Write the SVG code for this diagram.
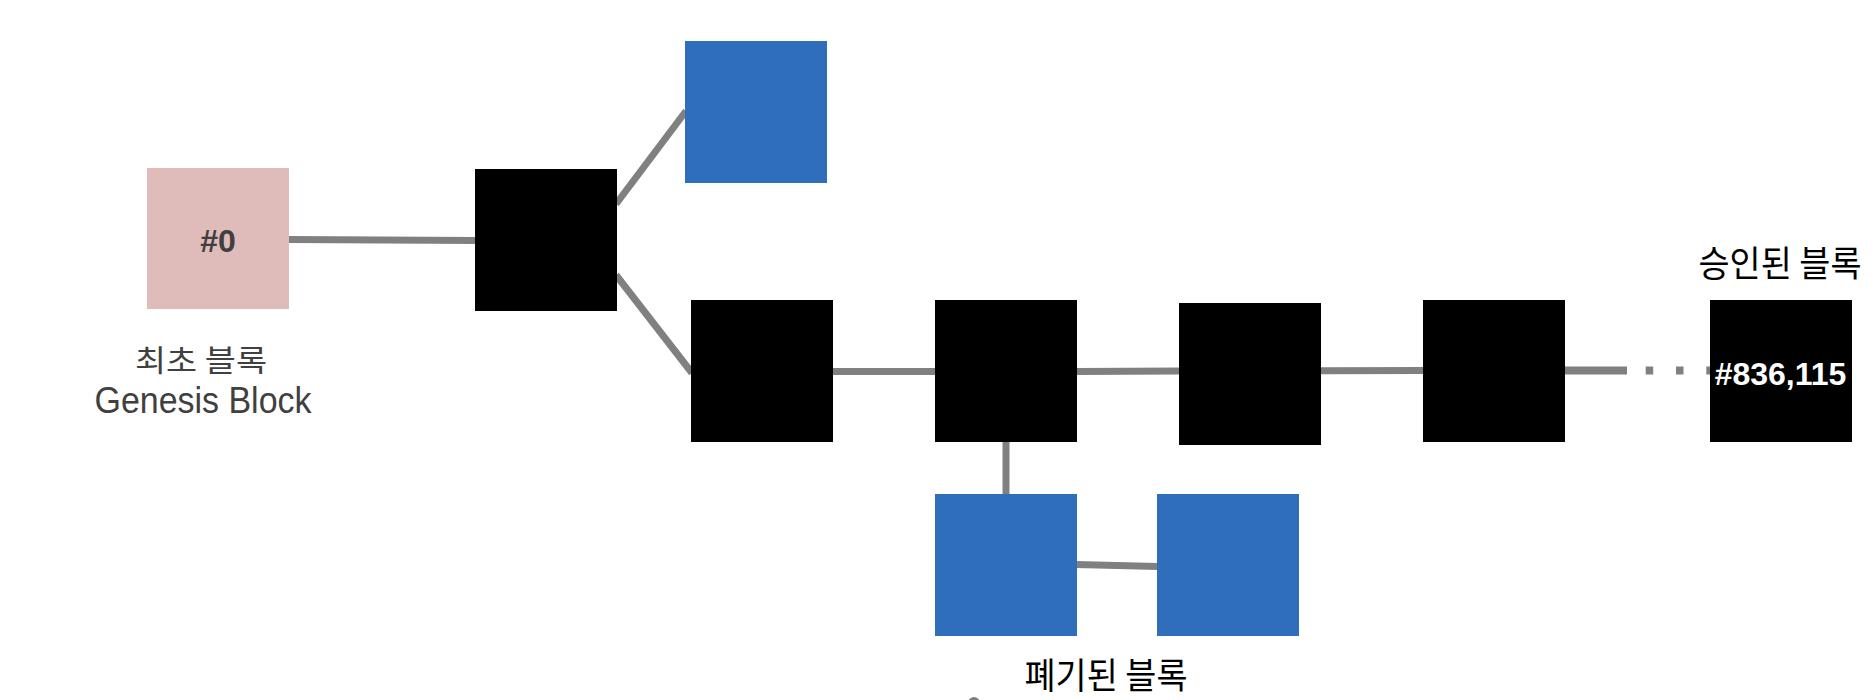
<svg xmlns="http://www.w3.org/2000/svg" width="1876" height="700" viewBox="0 0 1876 700">
<style>
.blk{fill:#000000}
.blue{fill:#2E6EBB}
.gen{fill:#DFBBBA}
.con{stroke:#808080;stroke-width:7;fill:none}
.num{font-family:"Liberation Sans","Noto Sans CJK KR",sans-serif;font-weight:bold;font-size:32px;text-anchor:middle}
.kr{font-family:"Noto Sans CJK KR","Liberation Sans",sans-serif;text-anchor:middle}
.lat{font-family:"Liberation Sans","Noto Sans",sans-serif;text-anchor:middle}
</style>
<rect width="1876" height="700" fill="#ffffff"/>
<g id="connectors">
<line class="con" x1="289" y1="239.5" x2="476" y2="240.5"/>
<line class="con" x1="616" y1="204" x2="686" y2="111"/>
<line class="con" x1="616" y1="275" x2="692" y2="373"/>
<line class="con" x1="832" y1="371.5" x2="935" y2="371.5"/>
<line class="con" x1="1076" y1="371.5" x2="1179" y2="371"/>
<line class="con" x1="1320" y1="370.8" x2="1423" y2="370.5"/>
<line class="con" style="stroke-width:8" x1="1564" y1="370.5" x2="1627" y2="370.5"/>
<line class="con" style="stroke-width:8;stroke-dasharray:7.5 22.8" x1="1645.7" y1="370.5" x2="1711" y2="370.5"/>
<line class="con" x1="1006" y1="441" x2="1006" y2="495"/>
<line class="con" x1="1076" y1="564.5" x2="1158" y2="566.5"/>
<circle cx="974" cy="703" r="6" fill="#808080"/>
</g>
<g id="genesis">
<rect class="gen" x="147" y="168" width="142" height="141"/>
<text class="num" x="218" y="251.7" font-size="33" fill="#404040">#0</text>
<text class="kr" x="201" y="370.5" font-size="30" fill="#404040" textLength="132" lengthAdjust="spacingAndGlyphs">최초 블록</text>
<text class="lat" x="203" y="413.3" font-size="37" fill="#404040" textLength="217" lengthAdjust="spacingAndGlyphs">Genesis Block</text>
</g>
<g id="blockA"><rect class="blk" x="475" y="169" width="142" height="142"/></g>
<g id="orphanTop"><rect class="blue" x="685" y="41" width="142" height="142"/></g>
<g id="blockB"><rect class="blk" x="691" y="300" width="142" height="142"/></g>
<g id="blockC"><rect class="blk" x="935" y="300" width="142" height="142"/></g>
<g id="blockD"><rect class="blk" x="1179" y="303" width="142" height="142"/></g>
<g id="blockE"><rect class="blk" x="1423" y="300" width="142" height="142"/></g>
<g id="blockF">
<rect class="blk" x="1710" y="300" width="142" height="142"/>
<text class="num" x="1780.5" y="385" fill="#ffffff">#836,115</text>
<text class="kr" x="1780" y="277" font-size="36" fill="#000000" textLength="163" lengthAdjust="spacingAndGlyphs">승인된 블록</text>
</g>
<g id="orphanG"><rect class="blue" x="935" y="494" width="142" height="142"/></g>
<g id="orphanH"><rect class="blue" x="1157" y="494" width="142" height="142"/></g>
<g id="orphanLabel">
<text class="kr" x="1106" y="689" font-size="36" fill="#000000" textLength="163" lengthAdjust="spacingAndGlyphs">폐기된 블록</text>
</g>
</svg>
